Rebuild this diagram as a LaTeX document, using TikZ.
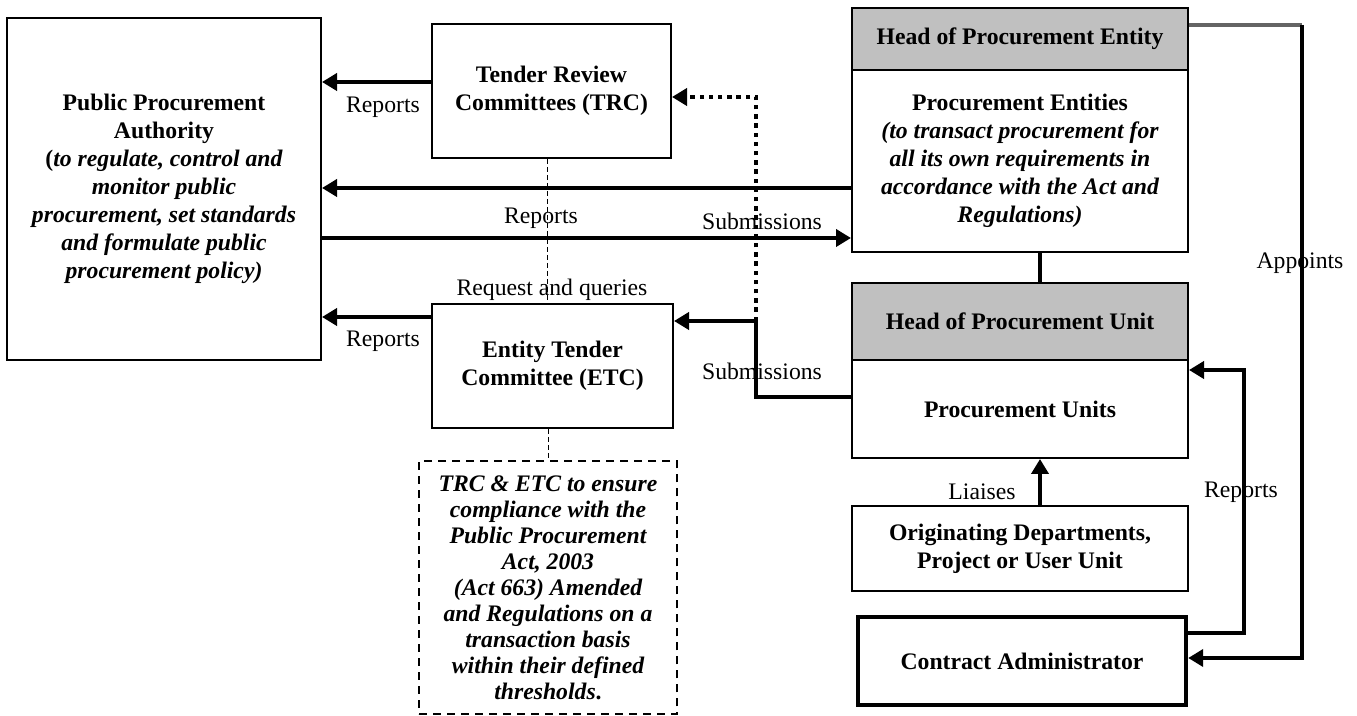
\documentclass[tikz,border=0pt]{standalone}
\usepackage{fontspec}
\setmainfont{Liberation Serif}
\usetikzlibrary{arrows.meta}
\begin{document}
\begin{tikzpicture}[x=0.5pt,y=-0.5pt,
  box/.style={draw,line width=1pt,inner sep=0pt,align=center,font=\fontsize{11.85}{14}\selectfont\bfseries},
  headbox/.style={box,fill=headgray},
  lbl/.style={inner sep=0pt,font=\fontsize{11.85}{14}\selectfont},
  thk/.style={line width=2.2pt},
  arr/.style={thk,-{Triangle[length=7.5pt,width=8.5pt]}},
  dotarr/.style={line width=2.4pt,dash pattern=on 2.2pt off 2.4pt,-{Triangle[length=7.5pt,width=8.5pt]}},
  thindash/.style={line width=0.5pt,dash pattern=on 2.5pt off 1.5pt}]
\definecolor{headgray}{HTML}{C0C0C0}
\useasboundingbox (0,0) rectangle (1357,716);
% nodes
\node[box,minimum width=157pt,minimum height=171pt] (ppa) at (164,189)
  {Public Procurement\\Authority\\(\itshape to regulate, control and\\\itshape monitor public\\\itshape procurement, set standards\\\itshape and formulate public\\\itshape procurement policy)};
\node[box,minimum width=119.5pt,minimum height=67pt] (trc) at (551.5,91) {Tender Review\\Committees (TRC)};
\node[box,minimum width=120.5pt,minimum height=62pt] (etc) at (552.5,366) {Entity Tender\\Committee (ETC)};
\node[box,dash pattern=on 4pt off 3pt,minimum width=129pt,minimum height=126.5pt,font=\fontsize{11.85}{13}\selectfont\bfseries\itshape] (note) at (548,588)
  {TRC \& ETC to ensure\\compliance with the\\Public Procurement\\Act, 2003\\(Act 663) Amended\\and Regulations on a\\transaction basis\\within their defined\\thresholds{\upshape .}};
\node[headbox,minimum width=168pt,minimum height=31pt] (hpe) at (1020,39) {Head of Procurement Entity};
\node[box,minimum width=168pt,minimum height=91pt] (pe) at (1020,161)
  {Procurement Entities\\\itshape (to transact procurement for\\\itshape all its own requirements in\\\itshape accordance with the Act and\\\itshape Regulations)};
\node[headbox,minimum width=168pt,minimum height=38.5pt] (hpu) at (1020,321.5) {Head of Procurement Unit};
\node[box,minimum width=168pt,minimum height=49pt] (pu) at (1020,409) {Procurement Units};
\node[box,minimum width=168pt,minimum height=42.5pt] (od) at (1020,548.5) {Originating Departments,\\Project or User Unit};
\node[box,line width=2.2pt,minimum width=164pt,minimum height=44pt] (ca) at (1022,661) {Contract Administrator};
% helper coordinates
\coordinate (yA) at (0,82);
\coordinate (yB) at (0,188);
\coordinate (yC) at (0,238);
\coordinate (yD) at (0,317);
\coordinate (m1) at (756,321);
\coordinate (m2) at (756,97);
\coordinate (m3) at (0,397);
\coordinate (a1) at (0,25);
\coordinate (a2) at (1302,25);
\coordinate (a3) at (0,658);
\coordinate (b1) at (0,633);
\coordinate (b2) at (1244,370);
\coordinate (l1) at (1040,0);
\coordinate (d1) at (547,0);
\coordinate (d2) at (548,0);
% connectors
\draw[arr] (trc.west |- yA) -- (ppa.east |- yA);
\draw[arr] (pe.west |- yB) -- (ppa.east |- yB);
\draw[arr] (ppa.east |- yC) -- (pe.west |- yC);
\draw[arr] (etc.west |- yD) -- (ppa.east |- yD);
\draw[thindash] (trc.south -| d1) -- (etc.north -| d1);
\draw[thindash] (etc.south -| d2) -- (note.north -| d2);
\draw[dotarr] (m1) -- (m2) -- (trc.east |- m2);
\draw[arr] (pu.west |- m3) -| (m1) -- (etc.east |- m1);
\draw[thk] (pe.south -| l1) -- (hpu.north -| l1);
\draw[arr] (od.north -| l1) -- (pu.south -| l1);
\draw[line width=1.6pt,draw={rgb,255:red,100;green,100;blue,100}] (hpe.east |- a1) -- (a2);
\draw[arr] (a2) |- (ca.east |- a3);
\draw[arr] (ca.east |- b1) -| (b2) -- (pu.east |- b2);
% labels
\node[lbl] (r1) at (383,107) {Reports};
\node[lbl] (r2) at (541,218) {Reports};
\node[lbl] (s1) at (762,221) {Submissions};
\node[lbl] (rq) at (552,290) {Request and queries};
\node[lbl] (r3) at (383,341) {Reports};
\node[lbl] (s2) at (762,371) {Submissions};
\node[lbl] (ap) at (1300,263) {Appoints};
\node[lbl] (r4) at (1241,492) {Reports};
\node[lbl] (li) at (982,492) {Liaises};
\end{tikzpicture}
\end{document}
